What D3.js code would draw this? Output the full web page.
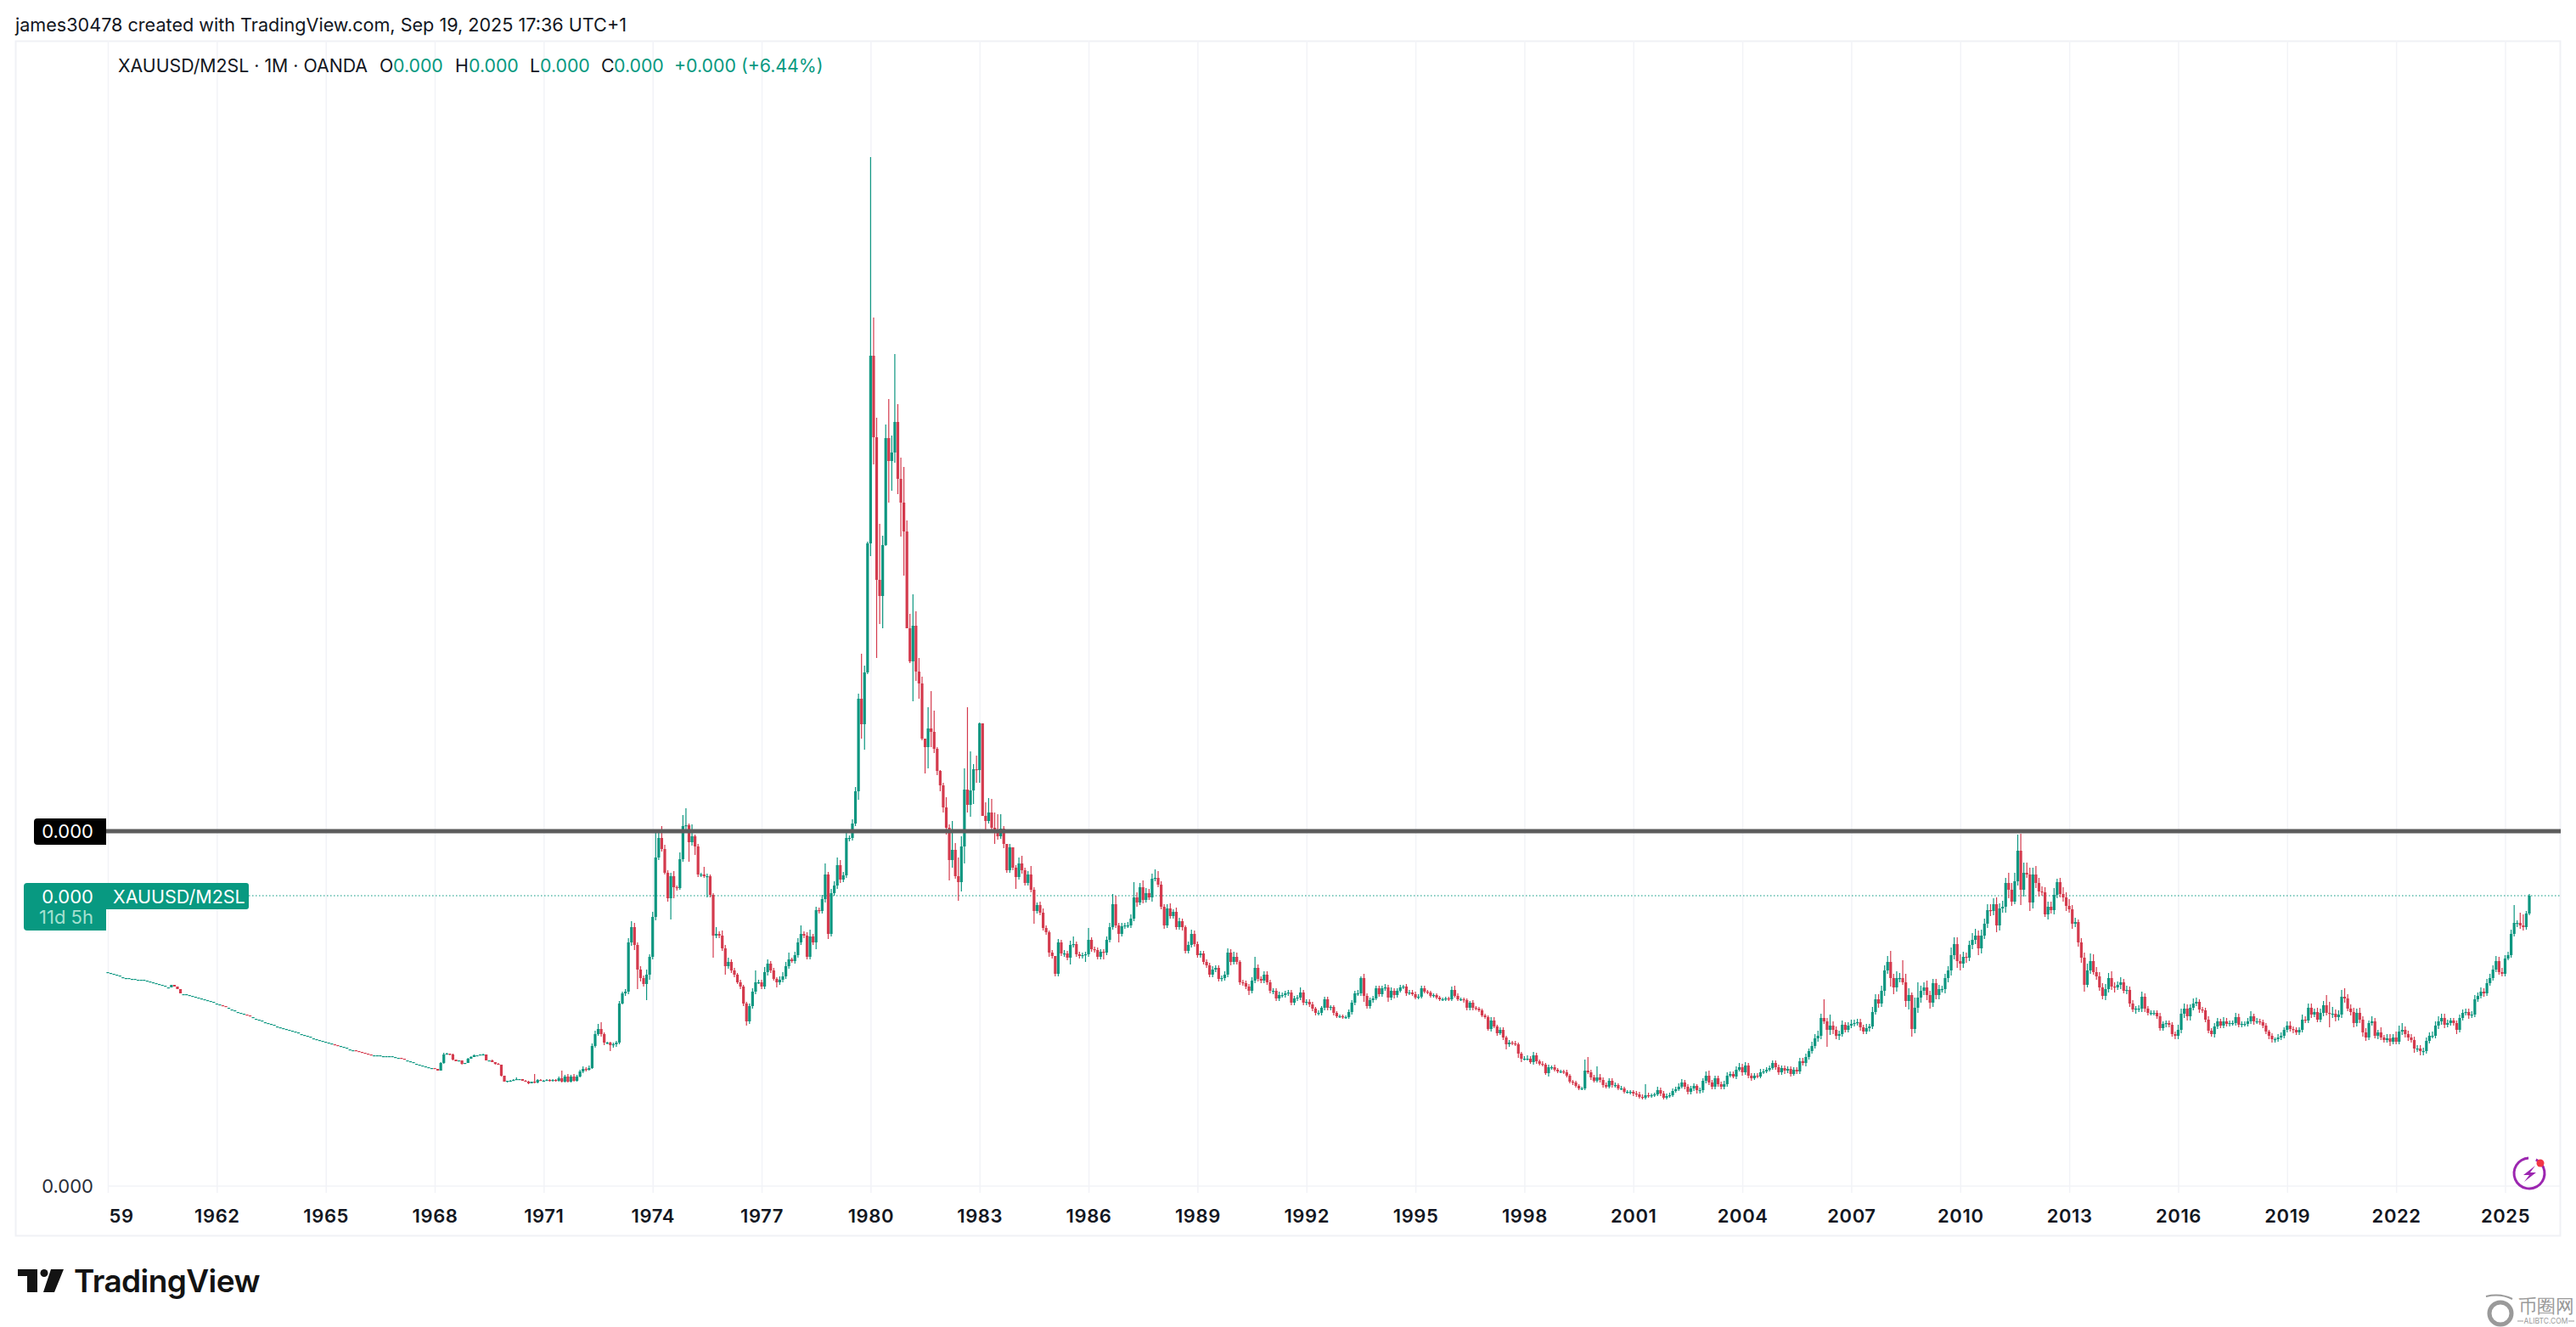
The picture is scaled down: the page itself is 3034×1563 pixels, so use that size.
<!DOCTYPE html>
<html>
<head>
<meta charset="utf-8">
<script src="https://cdn.jsdelivr.net/npm/d3@7"></script>
<style>
  html, body { margin: 0; padding: 0; background: #fff; overflow: hidden; }
  text { font-family: Inter, "Noto Sans", sans-serif; }
</style>
</head>
<body>
<svg id="chart" width="3034" height="1563"></svg>
<script>
// Values are heights on the chart's log price axis (axis prints 0.000 everywhere).
// One row per year, Jan 1959 .. Sep 2025.
const closes = [
  252,251,250,249,248,246,245,245,244,244,243,243,
  243,242,241,240,239,238,237,236,234,237,235,232,
  227,226,226,225,224,223,222,221,220,219,218,217,
  215,214,212,211,210,208,207,205,204,203,201,200,
  199,197,196,195,193,192,191,190,188,187,186,185,
  184,183,182,181,179,178,177,176,174,173,172,171,
  170,169,168,166,165,165,164,163,161,160,159,158,
  157,156,155,154,154,154,154,153,153,153,153,152,
  151,150,149,148,147,146,144,143,142,141,140,139,
  138,136,145,155,156,155,149,147,148,144,145,150,
  152,154,154,155,155,148,148,146,144,143,130,123,
  124,124,125,126,126,124,123,121,123,122,125,124,
  124,125,124,125,124,127,123,129,123,129,124,129,
  135,138,137,139,165,179,185,179,169,169,166,167,
  169,215,227,229,287,305,284,255,245,238,249,270,
  317,387,410,397,369,339,365,352,351,385,424,425,
  405,412,400,367,367,365,365,343,295,297,295,280,
  259,264,254,249,240,235,215,194,212,229,240,240,
  235,252,262,254,244,240,243,247,259,267,265,272,
  287,297,295,270,294,287,325,324,338,367,297,345,
  354,378,361,366,410,410,427,465,574,544,605,757,
  978,882,714,695,755,881,854,864,900,833,805,771,
  657,618,660,606,592,527,517,539,535,515,489,472,
  446,422,384,396,365,358,400,467,449,466,491,490,
  545,436,430,440,422,417,412,421,403,372,399,375,
  364,380,372,357,367,349,324,331,322,304,299,275,
  271,250,287,274,274,269,284,285,273,271,272,273,
  290,279,278,270,276,275,290,305,332,307,297,306,
  307,307,315,340,334,352,337,345,340,362,363,355,
  329,307,327,318,323,305,312,305,277,284,297,285,
  272,274,264,260,249,255,257,244,245,249,275,264,
  270,264,240,239,235,230,242,257,244,242,249,240,
  230,230,221,225,225,227,228,216,221,222,228,216,
  217,214,209,204,204,210,220,210,211,204,200,200,
  199,199,205,216,227,227,245,224,212,219,221,233,
  226,233,234,222,230,225,230,234,235,227,228,226,
  222,223,233,229,228,224,225,222,220,220,221,220,
  231,224,220,220,219,210,216,210,209,207,201,199,
  185,195,188,180,184,175,167,169,168,167,156,150,
  150,150,146,154,147,144,143,133,140,140,137,135,
  135,134,130,123,122,118,115,115,136,134,128,124,
  128,125,119,117,124,119,119,115,115,111,111,111,
  109,108,105,104,107,106,107,108,113,109,104,106,
  107,112,114,117,122,117,111,115,118,113,113,124,
  130,122,117,127,120,117,120,130,132,129,137,140,
  134,142,130,127,130,129,134,135,137,139,145,140,
  134,139,136,138,132,137,135,147,145,152,159,165,
  174,177,198,194,184,189,184,177,179,190,184,189,
  191,192,193,187,182,186,188,205,220,215,230,254,
  264,245,234,245,245,240,218,225,185,210,222,230,
  234,225,216,239,225,232,232,245,254,272,285,265,
  262,270,269,284,290,295,280,295,309,325,324,332,
  307,327,329,357,349,335,359,395,349,369,367,334,
  367,357,347,346,320,329,325,343,358,344,340,330,
  326,309,311,287,269,237,254,265,252,247,234,224,
  232,245,235,234,237,240,230,231,215,208,209,209,
  223,209,204,204,204,200,186,191,192,190,179,177,
  184,203,209,200,210,215,217,208,207,196,183,179,
  188,194,189,194,191,192,192,199,190,191,191,194,
  200,194,194,193,189,182,177,173,173,175,177,184,
  189,185,184,181,184,196,195,210,202,205,196,204,
  213,204,203,203,199,202,223,221,209,205,192,204,
  196,181,175,192,194,177,181,175,172,174,170,175,
  170,182,184,179,175,172,162,162,159,159,171,177,
  177,189,194,198,190,192,195,192,184,198,204,205,
  201,202,220,224,229,227,239,245,255,265,252,250,
  268,272,297,310,310,307,305,321,342
];

// Before 1968 the candles are tiny and gap from month to month, so opens are listed (1959-1967).
const earlyOpens = [
  251,250,249,248,247,245,244,244,243,243,242,242,
  242,241,240,239,238,237,236,235,233,234,237,235,
  232,225,225,224,223,222,221,220,219,218,217,216,
  214,213,213,212,209,207,206,204,203,202,202,201,
  198,196,195,194,192,191,190,189,187,186,185,184,
  183,182,181,180,178,177,176,175,173,172,171,170,
  169,168,167,167,166,164,163,162,160,159,160,159,
  158,157,156,155,153,153,153,152,152,152,152,151,
  150,151,150,147,146,145,143,142,141,140,139,138
];

// Wicks above and below the body, Jan 1968 .. Sep 2025.
const wickUp = [
  0,0,1,2,1,0,1,0,0,0,0,1,
  1,1,0,0,1,0,0,1,0,1,0,0,
  0,1,1,2,0,0,1,1,0,9,1,1,
  1,1,1,1,1,2,9,2,3,2,3,2,
  2,3,2,3,3,4,6,8,2,1,1,2,
  2,3,2,3,5,7,5,3,4,3,6,3,
  6,33,10,14,5,3,4,6,2,8,13,20,
  2,14,2,3,2,9,3,2,2,8,3,6,
  4,5,3,3,2,3,2,2,3,4,14,3,
  3,6,5,3,3,2,4,5,5,8,2,4,
  5,10,3,4,8,3,4,3,5,13,3,5,
  5,9,6,4,6,3,5,5,6,53,8,2,
  234,45,23,66,11,16,46,20,80,21,25,42,
  13,17,37,17,16,8,0,25,44,25,2,1,
  3,12,4,34,8,22,12,25,97,46,6,16,
  1,0,16,17,16,18,21,17,3,0,4,0,
  3,7,9,3,4,10,3,3,4,5,3,2,
  3,0,4,3,4,3,5,9,3,3,3,3,
  14,3,3,3,3,3,4,5,12,10,3,4,
  3,4,5,18,6,5,8,6,5,6,10,8,
  4,3,5,6,3,5,4,3,2,4,5,4,
  3,3,3,3,3,4,3,3,3,4,5,4,
  6,5,2,3,3,3,4,13,4,3,4,4,
  3,3,3,4,3,3,3,3,3,3,6,3,
  3,3,3,2,3,2,3,3,2,2,2,2,
  2,2,3,3,3,4,2,5,3,3,3,3,
  3,3,4,3,4,3,3,3,2,3,3,3,
  3,3,3,3,2,2,2,2,2,2,2,2,
  4,5,3,2,2,2,2,3,2,2,2,2,
  2,4,4,2,3,3,2,3,2,3,2,2,
  3,4,3,4,3,2,3,2,3,2,3,2,
  2,2,3,2,2,2,2,2,13,16,3,3,
  13,4,3,3,3,3,3,2,3,2,2,2,
  2,3,3,3,13,3,2,2,4,3,3,3,
  3,3,3,4,4,3,3,3,3,2,3,3,
  5,6,3,3,3,3,4,4,3,3,4,5,
  4,4,3,3,3,3,4,3,3,3,3,3,
  3,3,3,3,3,3,3,4,4,4,3,5,
  5,6,5,22,4,13,5,4,4,5,3,4,
  5,4,4,4,3,5,3,6,6,6,6,6,
  7,13,5,8,6,21,10,8,3,12,18,6,
  6,8,5,5,5,5,4,5,5,9,8,8,
  8,6,5,5,8,8,6,7,6,7,7,7,
  8,6,7,6,12,8,10,19,20,12,12,8,
  8,10,6,6,6,6,6,8,4,5,8,6,
  8,5,5,3,5,6,8,9,8,6,5,5,
  6,6,8,5,4,6,4,5,4,4,3,4,
  6,4,3,3,3,3,4,3,3,3,3,3,
  6,6,6,5,4,6,5,3,3,3,4,3,
  4,4,3,5,4,3,3,5,4,3,3,4,
  6,3,4,3,3,3,2,3,2,4,4,3,
  5,5,3,3,3,6,4,5,5,4,5,5,
  5,12,13,8,5,5,8,10,5,5,5,5,
  6,4,5,3,6,4,3,6,3,5,5,4,
  7,7,8,4,4,4,4,4,4,4,4,4,
  5,5,6,5,5,4,3,3,3,4,4,4,
  4,4,5,4,5,4,5,5,5,6,5,5,
  4,4,5,21,3,12,13,3,2
];
const wickDown = [
  0,0,0,1,0,1,1,0,0,1,0,0,
  0,0,1,0,0,0,1,0,1,0,1,0,
  1,0,0,0,1,0,0,1,0,1,1,0,
  1,0,1,1,1,1,1,1,1,1,1,1,
  1,2,2,1,1,2,2,3,3,2,7,3,
  3,2,1,3,3,4,6,23,4,3,19,6,
  3,4,3,3,2,4,25,13,3,2,3,4,
  23,4,10,3,3,2,25,3,26,3,3,3,
  10,3,3,3,2,3,3,5,3,3,3,2,
  3,3,4,3,2,6,3,3,3,3,2,3,
  3,3,3,3,3,3,8,3,3,4,6,3,
  3,4,4,3,3,4,3,3,10,17,30,2,
  15,32,92,33,38,1,49,35,12,18,40,52,
  0,2,47,11,18,2,31,25,18,5,5,7,
  6,8,24,9,3,22,11,20,9,14,16,15,
  15,0,13,3,3,14,4,3,5,3,3,3,
  14,3,4,3,3,3,15,3,3,3,3,5,
  3,3,3,3,4,3,8,3,3,3,3,8,
  3,3,3,3,3,8,3,3,3,3,10,3,
  3,3,3,3,5,3,4,3,3,5,3,3,
  3,4,3,3,3,3,3,4,3,3,3,3,
  3,3,3,3,3,3,3,3,3,3,3,4,
  3,3,3,3,3,5,3,3,3,3,3,3,
  3,4,3,3,3,3,3,3,3,3,3,3,
  3,3,3,3,3,3,3,3,3,3,2,2,
  2,2,2,3,3,3,3,7,3,3,3,2,
  3,3,3,5,3,4,3,2,2,3,2,2,
  2,2,2,2,2,2,2,2,2,2,2,2,
  2,2,2,2,3,3,3,3,2,2,2,2,
  2,3,2,3,2,3,6,3,2,2,5,4,
  2,2,2,3,3,2,2,2,4,3,2,2,
  2,2,2,2,3,2,2,2,2,2,3,2,
  2,3,3,2,2,3,3,2,2,2,2,3,
  3,3,2,2,2,2,2,2,2,3,2,2,
  2,2,2,2,2,3,3,3,3,4,4,3,
  3,3,3,3,3,3,3,3,2,2,3,2,
  4,3,3,3,2,2,2,2,2,2,2,3,
  3,3,4,3,3,2,3,3,3,4,3,3,
  3,4,4,3,20,6,5,4,5,3,3,3,
  3,3,3,4,3,3,4,3,3,5,4,6,
  4,10,8,5,5,3,7,10,9,5,6,6,
  5,6,7,5,5,5,4,5,5,6,5,8,
  8,5,6,4,5,5,8,6,4,5,6,5,
  8,6,5,7,10,5,3,5,18,8,4,10,
  7,6,6,4,3,6,4,5,4,4,5,6,
  4,6,4,5,6,8,3,4,3,4,4,4,
  5,4,4,6,3,5,3,4,4,3,5,4,
  4,4,3,3,3,3,3,3,4,3,3,4,
  4,4,5,5,5,3,3,4,3,3,3,3,
  4,3,3,3,3,3,3,3,3,3,3,3,
  3,4,3,3,3,3,4,4,4,3,3,3,
  3,3,4,3,3,3,3,3,4,3,3,3,
  4,3,16,5,5,4,4,5,3,4,5,4,
  4,5,4,3,3,3,4,3,3,3,5,3,
  3,3,4,4,4,3,5,4,5,5,3,3,
  3,3,4,4,4,3,3,3,5,3,3,3,
  4,3,3,3,3,4,3,3,3,3,3,3,
  3,2,3,3,5,4,4,3,2
];

const tickYears = [1959,1962,1965,1968,1971,1974,1977,1980,1983,1986,1989,1992,1995,1998,2001,2004,2007,2010,2013,2016,2019,2022,2025];
const tickLabels = ['59','1962','1965','1968','1971','1974','1977','1980','1983','1986','1989','1992','1995','1998','2001','2004','2007','2010','2013','2016','2019','2022','2025'];

const levelValue = 418;       // the drawn horizontal line
const axisValue = 0;          // the one price tick

const UP = '#089981', BODY_UP = '#0c9680', BODY_DOWN = '#d43a4d', INK = '#131722', GRID = '#f2f3f7', FRAME = '#f0f1f5';

let candles = closes.map((c, i) => {
    let open = i < earlyOpens.length ? earlyOpens[i] : closes[i - 1];
    let up = wickUp[i - 108] || 0;
    let down = wickDown[i - 108] || 0;
    return {
        i: i,
        open: open,
        close: c,
        high: Math.max(open, c) + up,
        low: Math.min(open, c) - down
    };
});

let xScale = d3.scaleLinear().domain([0, closes.length - 1]).range([127, 2979]);
let yScale = d3.scaleLinear().domain([0, 1212]).range([1397, 185]);
let yearIndex = y => (y - 1959) * 12;

let svg = d3.select('#chart');

// frame
svg.append('rect')
    .attr('x', 18.5).attr('y', 48.5).attr('width', 2997).attr('height', 1407)
    .attr('fill', 'none').attr('stroke', FRAME).attr('stroke-width', 2);

// time axis, its tick lines run up as the grid
let xAxis = d3.axisBottom(xScale)
    .tickValues(tickYears.map(yearIndex))
    .tickSize(0)
    .tickPadding(0)
    .tickFormat((d, i) => tickLabels[i]);

let xg = svg.append('g').attr('transform', 'translate(0,1397)').call(xAxis);
xg.select('.domain').remove();
xg.selectAll('.tick').append('line')
    .attr('y1', -1349).attr('y2', 8)
    .attr('stroke', GRID).attr('stroke-width', 1.5);
xg.selectAll('.tick text')
    .attr('y', 35).attr('dy', '0.35em')
    .attr('font-size', 22).attr('font-weight', 600)
    .attr('letter-spacing', 0.6)
    .attr('font-family', 'Inter')
    .attr('fill', INK);
xg.selectAll('.tick').filter((d, i) => i === 0).select('text')
    .attr('text-anchor', 'start').attr('x', 1);

// price axis, only one tick
let yAxis = d3.axisLeft(yScale).tickValues([axisValue]).tickSize(0).tickPadding(0).tickFormat(() => '0.000');
let yg = svg.append('g').attr('transform', 'translate(110,0)').call(yAxis);
yg.select('.domain').remove();
yg.selectAll('text')
    .attr('font-size', 22).attr('font-family', 'Inter').attr('fill', '#2a2e39')
    .attr('dy', '0.35em');
svg.append('line')
    .attr('x1', 127).attr('x2', 3015)
    .attr('y1', yScale(axisValue)).attr('y2', yScale(axisValue))
    .attr('stroke', GRID).attr('stroke-width', 1.5);

// last price dotted line
svg.append('line')
    .attr('x1', 293).attr('x2', 3016)
    .attr('y1', yScale(closes[closes.length - 1])).attr('y2', yScale(closes[closes.length - 1]))
    .attr('stroke', UP).attr('stroke-width', 1.2).attr('stroke-dasharray', '1.5 2.5');

// candles
let colour = d => d.close >= d.open ? BODY_UP : BODY_DOWN;

svg.append('g').selectAll('line')
    .data(candles.filter(d => d.high > d.low))
    .enter()
    .append('line')
    .attr('x1', d => xScale(d.i)).attr('x2', d => xScale(d.i))
    .attr('y1', d => yScale(d.high)).attr('y2', d => yScale(d.low))
    .attr('stroke', colour).attr('stroke-width', 1.2);

svg.append('g').selectAll('rect')
    .data(candles)
    .enter()
    .append('rect')
    .attr('x', d => xScale(d.i) - 1.6)
    .attr('width', 3.2)
    .attr('y', d => yScale(Math.max(d.open, d.close)))
    .attr('height', d => Math.max(1.2, Math.abs(yScale(d.open) - yScale(d.close))))
    .attr('fill', colour);

// drawn horizontal line and its label
svg.append('line')
    .attr('x1', 125).attr('x2', 3016)
    .attr('y1', yScale(levelValue)).attr('y2', yScale(levelValue))
    .attr('stroke', '#5c5c5c').attr('stroke-width', 5);
svg.append('path')
    .attr('d', 'M44 964H125V995H44Q40 995 40 991V968Q40 964 44 964Z')
    .attr('fill', '#000');
svg.append('text').text('0.000')
    .attr('x', 110).attr('y', 979.5).attr('dy', '0.35em').attr('text-anchor', 'end')
    .attr('font-size', 22).attr('fill', '#fff');

// last price labels
svg.append('path')
    .attr('d', 'M32 1040H125V1096H32Q28 1096 28 1092V1044Q28 1040 32 1040Z')
    .attr('fill', UP);
svg.append('path')
    .attr('d', 'M125 1040H290Q293 1040 293 1043V1068Q293 1071 290 1071H125Z')
    .attr('fill', UP);
svg.append('text').text('0.000')
    .attr('x', 110).attr('y', 1056).attr('dy', '0.35em').attr('text-anchor', 'end')
    .attr('font-size', 22).attr('fill', '#fff');
svg.append('text').text('11d 5h')
    .attr('x', 110).attr('y', 1080).attr('dy', '0.35em').attr('text-anchor', 'end')
    .attr('font-size', 22).attr('fill', '#a5e0d0');
svg.append('text').text('XAUUSD/M2SL')
    .attr('x', 133).attr('y', 1056).attr('dy', '0.35em')
    .attr('font-size', 21.5).attr('fill', '#fff');

// header
svg.append('text').text('james30478 created with TradingView.com, Sep 19, 2025 17:36 UTC+1')
    .attr('x', 18).attr('y', 29).attr('dy', '0.35em')
    .attr('font-size', 21.6).attr('fill', INK);

let legendParts = [
    ['XAUUSD/M2SL · 1M · OANDA', 139, INK],
    ['O', 447, INK], ['0.000', 463, UP],
    ['H', 536, INK], ['0.000', 552, UP],
    ['L', 624, INK], ['0.000', 636, UP],
    ['C', 708, INK], ['0.000', 723, UP],
    ['+0.000 (+6.44%)', 794, UP]
];
svg.append('g').selectAll('text')
    .data(legendParts)
    .enter()
    .append('text')
    .text(d => d[0])
    .attr('x', d => d[1]).attr('y', 78).attr('dy', '0.35em')
    .attr('font-size', 21.3).attr('fill', d => d[2]);

// lightning badge
svg.append('path')
    .attr('d', d3.arc()({ innerRadius: 16.5, outerRadius: 19.5, startAngle: 0.45, endAngle: Math.PI * 2 - 0.05 }))
    .attr('transform', 'translate(2979,1382)')
    .attr('fill', '#9c27b0');
svg.append('path')
    .attr('d', 'M2986 1373L2972 1384H2979L2973 1392L2987 1381H2980Z')
    .attr('fill', '#9c27b0');
svg.append('circle').attr('cx', 2992).attr('cy', 1370).attr('r', 4.5).attr('fill', '#f23645');

// TradingView logo
svg.append('path')
    .attr('d', 'M21 1495H44V1522H32V1503H21Z M60 1495H75L64 1522H51Z')
    .attr('fill', '#131313');
svg.append('circle').attr('cx', 52).attr('cy', 1499.5).attr('r', 4.5).attr('fill', '#131313');
svg.append('text').text('TradingView')
    .attr('x', 87).attr('y', 1522)
    .attr('font-size', 37).attr('font-weight', 600).attr('letter-spacing', -0.6)
    .attr('fill', '#131313');

// watermark
let mark = '#9a9a9a';
svg.append('circle').attr('cx', 2945).attr('cy', 1547).attr('r', 13)
    .attr('fill', 'none').attr('stroke', mark).attr('stroke-width', 5);
svg.append('path').attr('d', 'M2928 1527Q2945 1523 2959 1530').attr('fill', 'none').attr('stroke', mark).attr('stroke-width', 2);
svg.append('text').text('币圈网')
    .attr('x', 2966).attr('y', 1546)
    .attr('font-family', '"Noto Sans CJK SC"').attr('font-size', 21.5)
    .attr('fill', mark);
svg.append('path').attr('d', 'M2965 1556H2972M3025 1556H3032').attr('stroke', mark).attr('stroke-width', 1);
svg.append('text').text('ALIBTC.COM')
    .attr('x', 2998.5).attr('y', 1559).attr('text-anchor', 'middle')
    .attr('font-size', 8.5).attr('fill', mark);
</script>
</body>
</html>
